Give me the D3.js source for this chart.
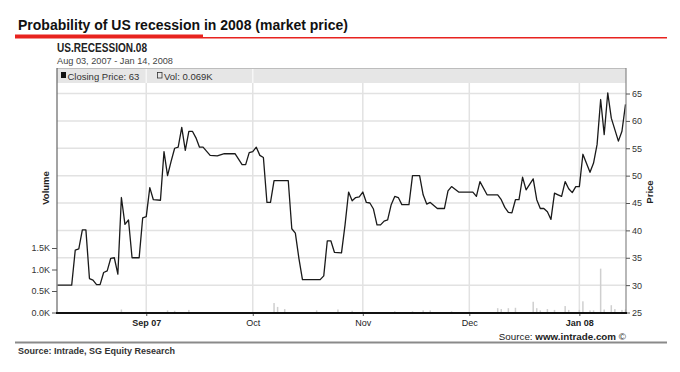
<!DOCTYPE html>
<html lang="en">
<head>
<meta charset="UTF-8">
<title>Probability of US recession in 2008</title>
<script src="https://cdn.jsdelivr.net/npm/d3@7"></script>
<style>
  body { margin: 0; background: #fff; }
  svg { display: block; font-family: "Liberation Sans", Arial, sans-serif; }
</style>
</head>
<body>
<script>
    // closing price (market price, %)
    var priceDates = [
        '2007-08-07','2007-08-11','2007-08-12','2007-08-13','2007-08-14','2007-08-15','2007-08-16','2007-08-17',
        '2007-08-18','2007-08-19','2007-08-20','2007-08-21','2007-08-22','2007-08-23','2007-08-24','2007-08-25',
        '2007-08-26','2007-08-27','2007-08-28','2007-08-30','2007-08-31','2007-09-01','2007-09-02','2007-09-03',
        '2007-09-05','2007-09-06','2007-09-07','2007-09-08','2007-09-09','2007-09-10','2007-09-11','2007-09-12',
        '2007-09-13','2007-09-14','2007-09-15','2007-09-16','2007-09-17','2007-09-19','2007-09-21','2007-09-23',
        '2007-09-26','2007-09-28','2007-09-29','2007-09-30','2007-10-01','2007-10-02','2007-10-03','2007-10-04',
        '2007-10-05','2007-10-06','2007-10-07','2007-10-11','2007-10-12','2007-10-13','2007-10-14','2007-10-15',
        '2007-10-20','2007-10-21','2007-10-22','2007-10-23','2007-10-24','2007-10-26','2007-10-27','2007-10-28',
        '2007-10-29','2007-10-30','2007-10-31','2007-11-01','2007-11-02','2007-11-03','2007-11-04','2007-11-05',
        '2007-11-06','2007-11-07','2007-11-08','2007-11-09','2007-11-10','2007-11-11','2007-11-12','2007-11-14',
        '2007-11-15','2007-11-17','2007-11-18','2007-11-19','2007-11-20','2007-11-22','2007-11-24','2007-11-25',
        '2007-11-26','2007-11-28','2007-12-02','2007-12-03','2007-12-04','2007-12-06','2007-12-09','2007-12-10',
        '2007-12-11','2007-12-12','2007-12-13','2007-12-14','2007-12-15','2007-12-16','2007-12-17','2007-12-19',
        '2007-12-20','2007-12-21','2007-12-22','2007-12-23','2007-12-24','2007-12-25','2007-12-26','2007-12-27',
        '2007-12-28','2007-12-29','2007-12-30','2007-12-31','2008-01-01','2008-01-02','2008-01-04','2008-01-05',
        '2008-01-06','2008-01-07','2008-01-08','2008-01-09','2008-01-10','2008-01-11','2008-01-12','2008-01-13',
        '2008-01-14'
    ];
    var prices = [
        30, 30, 36.4, 36.6, 40.1, 40.1, 31.2, 30.9,
        30.1, 30.1, 32.3, 32.6, 34.9, 35.0, 32.0, 46.0,
        41.1, 41.9, 35.0, 35.0, 42.3, 42.5, 47.8, 45.6,
        45.5, 54.4, 50.0, 52.6, 55.0, 55.2, 58.8, 54.6,
        58.1, 58.1, 56.9, 55.2, 55.2, 53.7, 53.6, 54.0,
        54.0, 52.0, 52.0, 54.2, 54.4, 55.2, 53.7, 53.3,
        45.1, 45.1, 49.1, 49.1, 40.3, 39.5, 34.9, 31.0,
        31.0, 31.7, 38.1, 38.1, 36.0, 35.9, 41.0, 47.0,
        45.4, 46.0, 46.1, 47.0, 45.1, 45.0, 43.9, 41.0,
        41.0, 41.7, 41.9, 44.7, 46.2, 46.0, 44.7, 44.7,
        50.0, 50.0, 46.5, 44.8, 45.1, 44.0, 44.0, 47.2,
        48.0, 47.0, 47.0, 46.2, 48.9, 46.5, 46.5, 45.6,
        44.2, 43.3, 43.2, 45.6, 45.6, 49.7, 47.4, 49.4,
        45.6, 44.0, 44.0, 43.4, 42.0, 46.8, 46.5, 46.2,
        48.9, 47.6, 46.9, 48.0, 48.0, 53.9, 50.6, 52.3,
        55.7, 63.9, 57.5, 65.1, 60.5, 58.4, 56.3, 58.1,
        63.0
    ];

    // traded volume, thousands of contracts
    var volDates = [
        '2007-08-25','2007-09-07','2007-09-09','2007-09-13','2007-10-07','2007-10-08','2007-10-10','2007-10-19',
        '2007-10-25','2007-10-29','2007-11-10','2007-11-15','2007-11-18','2007-11-20','2007-11-26','2007-12-09',
        '2007-12-10','2007-12-12','2007-12-14','2007-12-19','2007-12-20','2007-12-21','2007-12-23','2007-12-25',
        '2007-12-28','2007-12-29','2008-01-01','2008-01-02','2008-01-04','2008-01-05','2008-01-07','2008-01-08',
        '2008-01-10','2008-01-11','2008-01-13','2008-01-14'
    ];
    var volumes = [
        0.07, 0.05, 0.04, 0.06, 0.22, 0.13, 0.08, 0.05,
        0.07, 0.04, 0.03, 0.03, 0.05, 0.05, 0.03, 0.10,
        0.08, 0.10, 0.11, 0.25, 0.10, 0.05, 0.08, 0.06,
        0.15, 0.06, 0.06, 0.26, 0.05, 0.05, 1.02, 0.07,
        0.17, 0.08, 0.06, 0.07
    ];

    var priceTicks = [25, 30, 35, 40, 45, 50, 55, 60, 65];
    var volTicks = [0, 0.5, 1.0, 1.5];
    var monthTicks = ['2007-09-01', '2007-10-01', '2007-11-01', '2007-12-01', '2008-01-01'];
    var monthLabels = ['Sep 07', 'Oct', 'Nov', 'Dec', 'Jan 08'];

    var width = 680, height = 372;
    var plot = {left: 57, right: 626, top: 68, bottom: 313};
    var legendH = 15;

    var parse = d3.timeParse('%Y-%m-%d');

    var svg = d3.select('body').append('svg')
        .attr('width', width)
        .attr('height', height);

    // title + red rule
    svg.append('text')
        .attr('x', 18).attr('y', 30)
        .attr('font-size', '14px').attr('font-weight', 'bold').attr('fill', '#111')
        .text('Probability of US recession in 2008 (market price)');
    svg.append('line').attr('x1', 15).attr('x2', 667).attr('y1', 37.8).attr('y2', 37.8)
        .attr('stroke', '#e8231f').attr('stroke-width', 1.4);
    svg.append('rect').attr('x', 15).attr('y', 34.5).attr('width', 188).attr('height', 3.5)
        .attr('fill', '#e8231f');

    svg.append('text')
        .attr('x', 57).attr('y', 51.5)
        .attr('font-size', '12px').attr('font-weight', 'bold').attr('fill', '#222')
        .attr('textLength', 90).attr('lengthAdjust', 'spacingAndGlyphs')
        .text('US.RECESSION.08');
    svg.append('text')
        .attr('x', 57).attr('y', 64)
        .attr('font-size', '9.2px').attr('fill', '#444')
        .text('Aug 03, 2007 - Jan 14, 2008');

    // scales
    var x = d3.scaleTime()
        .domain([parse('2007-08-07'), parse('2008-01-14')])
        .range([plot.left + 0.5, plot.right - 0.5]);
    var yPrice = d3.scaleLinear().domain([25, 65]).range([312.5, 93.5]);
    var yVol = d3.scaleLinear().domain([0, 1.5]).range([312.5, 248]);

    // legend strip
    svg.append('rect')
        .attr('x', plot.left).attr('y', plot.top)
        .attr('width', plot.right - plot.left).attr('height', legendH)
        .attr('fill', '#e6e6e6');

    // grid
    var grid = svg.append('g');
    grid.selectAll('.hg')
        .data(priceTicks.slice(1))
        .enter().append('line')
        .attr('x1', plot.left).attr('x2', plot.right)
        .attr('y1', function(d) { return yPrice(d); })
        .attr('y2', function(d) { return yPrice(d); })
        .attr('stroke', '#e2e2e2').attr('stroke-width', 1.5);
    grid.selectAll('.vg')
        .data(monthTicks)
        .enter().append('line')
        .attr('x1', function(d) { return x(parse(d)); })
        .attr('x2', function(d) { return x(parse(d)); })
        .attr('y1', plot.top + legendH).attr('y2', plot.bottom)
        .attr('stroke', '#e2e2e2').attr('stroke-width', 1.5);
    grid.selectAll('.lg')
        .data(monthTicks.slice(0, 2))
        .enter().append('line')
        .attr('x1', function(d) { return x(parse(d)); })
        .attr('x2', function(d) { return x(parse(d)); })
        .attr('y1', plot.top).attr('y2', plot.top + legendH)
        .attr('stroke', '#f6f6f6').attr('stroke-width', 1.5);

    // legend items
    svg.append('rect').attr('x', 61).attr('y', 72).attr('width', 5).attr('height', 6).attr('fill', '#111');
    svg.append('text').attr('x', 67.5).attr('y', 79.5)
        .attr('font-size', '9.5px').attr('fill', '#333')
        .text('Closing Price: 63');
    svg.append('rect').attr('x', 157.5).attr('y', 72.5).attr('width', 4.5).attr('height', 5.5)
        .attr('fill', 'none').attr('stroke', '#333').attr('stroke-width', 0.8);
    svg.append('text').attr('x', 164).attr('y', 79.5)
        .attr('font-size', '9.5px').attr('fill', '#333')
        .text('Vol: 0.069K');

    // volume bars
    var vol = volDates.map(function(d, i) { return {date: parse(d), v: volumes[i]}; });
    svg.append('g').selectAll('rect')
        .data(vol)
        .enter().append('rect')
        .attr('x', function(d) { return x(d.date) - 0.75; })
        .attr('y', function(d) { return yVol(d.v); })
        .attr('width', 1.5)
        .attr('height', function(d) { return yVol(0) - yVol(d.v); })
        .attr('fill', '#cfcfcf');

    // price line
    var pts = priceDates.map(function(d, i) { return {date: parse(d), p: prices[i]}; });
    var line = d3.line()
        .x(function(d) { return x(d.date); })
        .y(function(d) { return yPrice(d.p); });
    svg.append('path')
        .datum(pts)
        .attr('d', line)
        .attr('fill', 'none')
        .attr('stroke', '#1a1a1a')
        .attr('stroke-width', 1.3)
        .attr('stroke-linejoin', 'round');

    // frame
    svg.append('line').attr('x1', plot.left).attr('x2', plot.right).attr('y1', plot.top + 0.5).attr('y2', plot.top + 0.5)
        .attr('stroke', '#bdbdbd');
    svg.append('line').attr('x1', plot.left).attr('x2', plot.left).attr('y1', plot.top).attr('y2', plot.bottom)
        .attr('stroke', '#666').attr('stroke-width', 1.2);
    svg.append('line').attr('x1', plot.right).attr('x2', plot.right).attr('y1', plot.top).attr('y2', plot.bottom)
        .attr('stroke', '#888').attr('stroke-width', 1.2);

    // axes
    var rightAxis = svg.append('g')
        .attr('transform', 'translate(' + plot.right + ',0)')
        .call(d3.axisRight(yPrice).tickValues(priceTicks).tickSize(4).tickSizeOuter(0).tickPadding(2));
    var leftAxis = svg.append('g')
        .attr('transform', 'translate(' + plot.left + ',0)')
        .call(d3.axisLeft(yVol).tickValues(volTicks).tickSize(5).tickSizeOuter(0).tickPadding(2)
            .tickFormat(function(d) { return d.toFixed(1) + 'K'; }));
    var bottomAxis = svg.append('g')
        .attr('transform', 'translate(0,' + plot.bottom + ')')
        .call(d3.axisBottom(x).tickValues(monthTicks.map(parse)).tickSize(3).tickSizeOuter(0).tickPadding(4)
            .tickFormat(function(d, i) { return monthLabels[i]; }));

    [rightAxis, leftAxis, bottomAxis].forEach(function(a) {
        a.select('.domain').remove();
        a.selectAll('.tick line').attr('stroke', '#555');
        a.selectAll('text')
            .attr('font-family', '"Liberation Sans", Arial, sans-serif')
            .attr('font-size', '9px').attr('fill', '#333');
    });
    bottomAxis.selectAll('text')
        .attr('font-weight', function(d, i) { return (i === 0 || i === 4) ? 'bold' : 'normal'; })
        .attr('fill', '#222');

    svg.append('line').attr('x1', plot.left - 1).attr('x2', plot.right + 1).attr('y1', plot.bottom).attr('y2', plot.bottom)
        .attr('stroke', '#111').attr('stroke-width', 1.8);

    // axis titles
    svg.append('text')
        .attr('transform', 'translate(49,188) rotate(-90)')
        .attr('text-anchor', 'middle')
        .attr('font-size', '9.5px').attr('font-weight', 'bold').attr('fill', '#222')
        .text('Volume');
    svg.append('text')
        .attr('transform', 'translate(653,192) rotate(-90)')
        .attr('text-anchor', 'middle')
        .attr('font-size', '9.5px').attr('font-weight', 'bold').attr('fill', '#222')
        .text('Price');

    // sources
    var src = svg.append('text')
        .attr('x', 626).attr('y', 339.5)
        .attr('text-anchor', 'end')
        .attr('font-size', '9.8px').attr('fill', '#222');
    src.append('tspan').text('Source: ');
    src.append('tspan').attr('font-weight', 'bold').text('www.intrade.com');
    src.append('tspan').text(' \u00a9');

    svg.append('line').attr('x1', 15).attr('x2', 667).attr('y1', 342.5).attr('y2', 342.5)
        .attr('stroke', '#8a8a8a').attr('stroke-width', 2);
    svg.append('text')
        .attr('x', 18).attr('y', 354)
        .attr('font-size', '9px').attr('font-weight', 'bold').attr('fill', '#333')
        .text('Source: Intrade, SG Equity Research');
</script>
</body>
</html>
